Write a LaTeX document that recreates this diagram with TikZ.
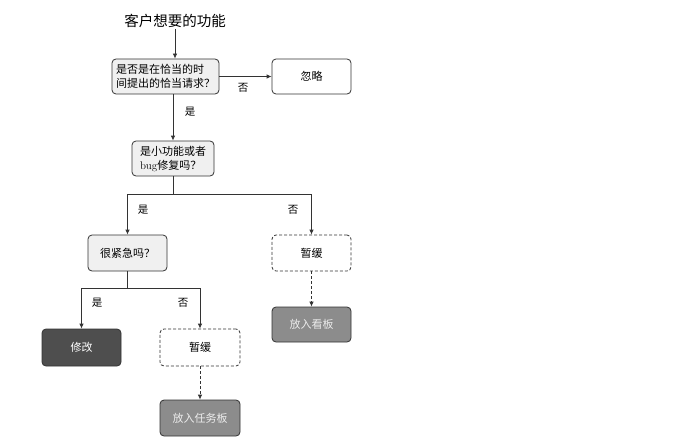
\documentclass[tikz,border=0pt]{standalone}
\usepackage{fontspec}
\newfontfamily\cjk{Noto Sans CJK SC}
\usetikzlibrary{arrows.meta,calc}
\definecolor{lightfill}{HTML}{F0F0F0}
\definecolor{midfill}{HTML}{8C8C8C}
\definecolor{darkfill}{HTML}{4E4E4E}
\definecolor{edge}{HTML}{333333}
\tikzset{
  box/.style={draw=edge, line width=0.8pt, rounded corners=4pt, inner sep=2pt, font=\cjk\fontsize{11}{14}\selectfont, align=left},
  qbox/.style={box, fill=lightfill},
  plainbox/.style={box, fill=white, align=center},
  pendbox/.style={box, fill=white, dash pattern=on 3pt off 2pt, align=center},
  midbox/.style={box, fill=midfill, text=white!92!black, align=center},
  darkbox/.style={box, fill=darkfill, text=white, align=center},
  arr/.style={draw=edge, line width=0.8pt, -{Latex[length=5pt,width=4.5pt]}},
  darr/.style={arr, dash pattern=on 3pt off 2pt},
  lbl/.style={font=\cjk\fontsize{10.5}{12}\selectfont, inner sep=0pt}
}
\begin{document}
\begin{tikzpicture}[x=1pt,y=-1pt]
\useasboundingbox (0,0) rectangle (684,441);
\fill[white] (0,0) rectangle (684,441);

\node[font=\cjk\fontsize{14.5}{16}\selectfont, inner sep=1pt] (title) at (175,21) {客户想要的功能};

\node[qbox, minimum width=107pt, minimum height=35pt] (b1) at (165.5,76.5) {是否是在恰当的时\\间提出的恰当请求？};
\node[plainbox, minimum width=79pt, minimum height=35pt] (ign) at (311.5,76.5) {忽略};
\node[qbox, minimum width=82pt, minimum height=35pt] (b2) at (173,158.5) {是小功能或者\\{\rmfamily bug}修复吗？};
\node[qbox, align=center, minimum width=79pt, minimum height=36pt] (urg) at (127.5,253) {很紧急吗？};
\node[pendbox, minimum width=79pt, minimum height=36pt] (d1) at (311.5,253) {暂缓};
\node[midbox, minimum width=79pt, minimum height=35pt] (kb) at (311.5,324.5) {放入看板};
\node[darkbox, minimum width=79pt, minimum height=37pt] (fix) at (81.5,347.5) {修改};
\node[pendbox, minimum width=80pt, minimum height=37pt] (d2) at (200,347.5) {暂缓};
\node[midbox, minimum width=80pt, minimum height=36pt] (tb) at (200,418) {放入任务板};

\coordinate (j1) at (173,194);
\coordinate (j2) at (127.5,288);

\draw[arr] (title) -- (title |- b1.north);
\draw[arr] (b1.east) -- (ign.west);
\draw[arr] (b2 |- b1.south) -- (b2.north);
\draw[edge, line width=0.8pt] (b2.south) -- (j1);
\draw[arr] (j1) -| (urg.north);
\draw[arr] (j1) -| (d1.north);
\draw[darr] (d1.south) -- (kb.north);
\draw[edge, line width=0.8pt] (urg.south) -- (j2);
\draw[arr] (j2) -| (fix.north);
\draw[arr] (j2) -| (d2.north);
\draw[darr] (d2.south) -- (tb.north);

\node[lbl] (l1) at (243,88) {否};
\node[lbl] (l2) at (190,112) {是};
\node[lbl] (l3) at (143,210) {是};
\node[lbl] (l4) at (293,210) {否};
\node[lbl] (l5) at (97,303) {是};
\node[lbl] (l6) at (183,303) {否};
\end{tikzpicture}
\end{document}
